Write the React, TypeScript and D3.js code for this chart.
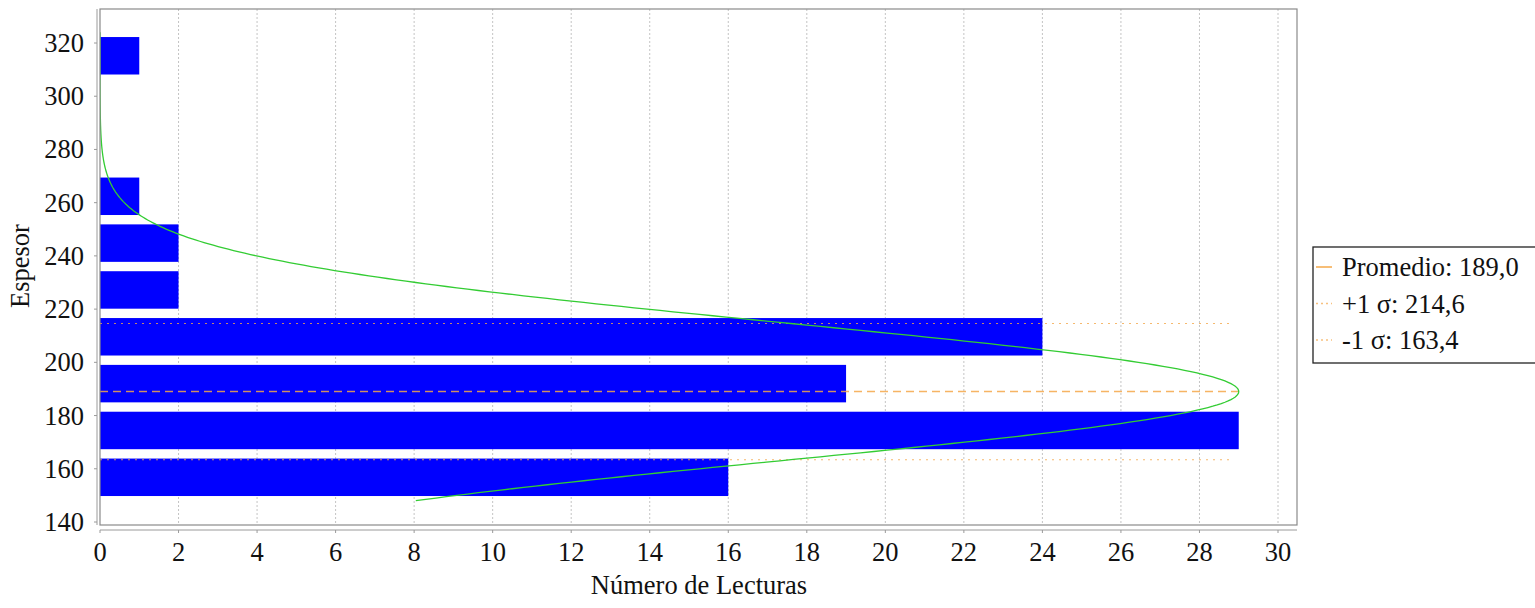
import React from 'react';
import * as d3 from 'd3';

// Histogram of thickness readings (bins along the vertical axis)
const binStart = [148, 165.6, 183.2, 200.8, 218.4, 236, 253.6, 271.2, 288.8, 306.4];
const binEnd = [165.6, 183.2, 200.8, 218.4, 236, 253.6, 271.2, 288.8, 306.4, 324];
const counts = [16, 29, 19, 24, 2, 2, 1, 0, 0, 1];

const mean = 189.0;
const plusSigma = 214.6;
const minusSigma = 163.4;
const dataMin = 148;
const dataMax = 324;

const xTicks = [0, 2, 4, 6, 8, 10, 12, 14, 16, 18, 20, 22, 24, 26, 28, 30];
const yTicks = [140, 160, 180, 200, 220, 240, 260, 280, 300, 320];

const legendLabels = ['Promedio: 189,0', '+1 σ: 214,6', '-1 σ: 163,4'];

const W = 1535;
const H = 608;
const left = 100;
const right = 1297;
const top = 9;
const bottom = 525;
const txt: React.CSSProperties = {
  fontFamily: "'Liberation Serif', 'DejaVu Serif', serif",
  fontSize: '26.5px',
  fill: '#111',
};

export default function App() {
  const x = d3.scaleLinear().domain([0, 30]).range([left, 1278]);
  const y = d3.scaleLinear().domain([140, 320]).range([522, 43]);

  const sd = (plusSigma - minusSigma) / 2;
  const peak = d3.max(counts) as number;
  const curveYs = d3.range(dataMin, dataMax + 0.01, 0.5);
  const curve = d3
    .line<number>()
    .x((v) => x(peak * Math.exp(-((v - mean) ** 2) / (2 * sd * sd))))
    .y((v) => y(v));

  const lineEnd = 1233;
  const axisY = 530;
  const axisX = 97;

  return (
    <svg width={W} height={H} style={{ position: 'absolute', left: 0, top: 0, background: '#fff' }}>
      <defs>
        <clipPath id="plot">
          <rect x={left} y={top} width={right - left} height={bottom - top} />
        </clipPath>
      </defs>
      <rect x={0} y={0} width={W} height={H} fill="#fff" />
      {/* vertical grid */}
      {xTicks.filter((t) => t > 0).map((t) => (
        <line key={t} x1={x(t)} x2={x(t)} y1={top} y2={bottom} stroke="#c4c4c4" strokeWidth={1} strokeDasharray="2,2" />
      ))}
      {/* bars */}
      <g clipPath="url(#plot)">
        {counts.map((c, i) => {
          if (c === 0) return null;
          const m = (binEnd[i] - binStart[i]) * 0.1;
          const y0 = y(binEnd[i] - m);
          const y1 = y(binStart[i] + m);
          return <rect key={i} x={x(0)} y={y0} width={x(c) - x(0)} height={y1 - y0} fill="#0000ff" />;
        })}
        {/* mean / sigma lines */}
        <line x1={x(0)} x2={lineEnd + 5} y1={y(mean)} y2={y(mean)} stroke="#f5a84a" strokeWidth={1.5} strokeDasharray="8,5" opacity={0.85} />
        <line x1={x(0)} x2={lineEnd} y1={y(plusSigma)} y2={y(plusSigma)} stroke="#f5a84a" strokeWidth={1.2} strokeDasharray="2,5" opacity={0.8} />
        <line x1={x(0)} x2={lineEnd} y1={y(minusSigma)} y2={y(minusSigma)} stroke="#f5a84a" strokeWidth={1.2} strokeDasharray="2,5" opacity={0.8} />
        <path d={curve(curveYs) || ''} fill="none" stroke="#33cc33" strokeWidth={1.3} />
      </g>
      {/* plot border */}
      <rect x={left} y={top} width={right - left} height={bottom - top} fill="none" stroke="#8a8a8a" strokeWidth={1.2} />
      {/* y axis */}
      <line x1={axisX} x2={axisX} y1={top} y2={bottom} stroke="#9a9a9a" />
      {yTicks.map((t) => (
        <g key={t}>
          <line x1={axisX - 3} x2={axisX} y1={y(t)} y2={y(t)} stroke="#9a9a9a" />
          <text x={84} y={y(t)} dy="0.34em" textAnchor="end" style={txt}>
            {t}
          </text>
        </g>
      ))}
      <text transform="translate(29,266) rotate(-90)" textAnchor="middle" style={txt}>
        Espesor
      </text>
      {/* x axis */}
      <line x1={left} x2={right} y1={axisY} y2={axisY} stroke="#9a9a9a" />
      {xTicks.map((t) => (
        <g key={t}>
          <line x1={x(t)} x2={x(t)} y1={axisY} y2={axisY + 3} stroke="#9a9a9a" />
          <text x={x(t)} y={561} textAnchor="middle" style={txt}>
            {t}
          </text>
        </g>
      ))}
      <text x={699} y={594} textAnchor="middle" style={txt}>
        Número de Lecturas
      </text>
      {/* legend */}
      <rect x={1313} y={247} width={240} height={116} fill="#fff" stroke="#222" strokeWidth={1.3} />
      {legendLabels.map((l, i) => {
        const ly = 267 + i * 36.5;
        return (
          <g key={l}>
            <line
              x1={1316}
              x2={1332}
              y1={ly}
              y2={ly}
              stroke="#f5a84a"
              strokeWidth={1.5}
              strokeDasharray={i === 0 ? undefined : '2,3'}
              opacity={i === 0 ? 1 : 0.7}
            />
            <text x={1342} y={ly} dy="0.34em" style={txt}>
              {l}
            </text>
          </g>
        );
      })}
    </svg>
  );
}
